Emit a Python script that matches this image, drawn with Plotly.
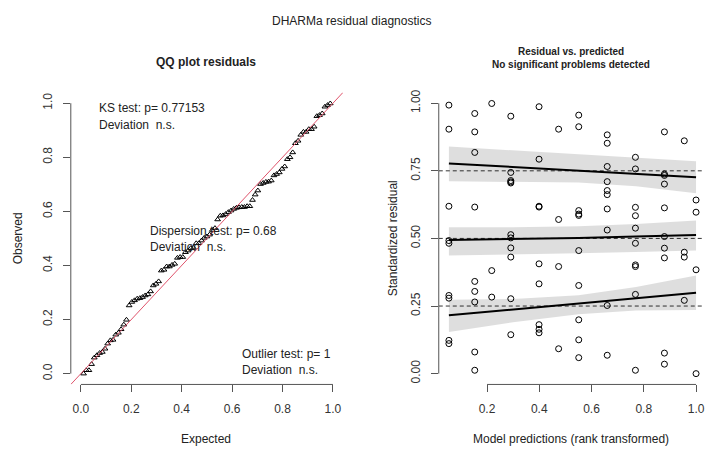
import numpy as np
import plotly.graph_objects as go

W, H = 705, 451
FONT = "Liberation Sans, Arial, sans-serif"

# ---------------- data ----------------
# model predictions (rank transformed) for each residual
pred_rank = (
    [0.054] * 9 + [0.153] * 9 + [0.218] * 3 + [0.291] * 11 + [0.399] * 9 +
    [0.474] * 4 + [0.551] * 10 + [0.660] * 10 + [0.768] * 10 + [0.879] * 10 +
    [0.955] * 4 + [1.0] * 4
)
# scaled (standardized) residuals, in the same order
std_resid = [
    0.993, 0.904, 0.619, 0.492, 0.482, 0.289, 0.279, 0.123, 0.111,
    0.962, 0.894, 0.818, 0.616, 0.341, 0.304, 0.265, 0.080, 0.0125,
    0.999, 0.381, 0.283,
    0.952, 0.744, 0.714, 0.709, 0.705, 0.514, 0.502, 0.465, 0.431, 0.277, 0.144,
    0.987, 0.793, 0.619, 0.616, 0.406, 0.332, 0.181, 0.164, 0.151,
    0.904, 0.570, 0.396, 0.092,
    0.956, 0.913, 0.603, 0.590, 0.585, 0.455, 0.326, 0.199, 0.125, 0.059,
    0.883, 0.852, 0.766, 0.710, 0.677, 0.662, 0.609, 0.531, 0.252, 0.068,
    0.800, 0.757, 0.615, 0.584, 0.538, 0.482, 0.402, 0.396, 0.293, 0.0125,
    0.894, 0.738, 0.733, 0.701, 0.613, 0.507, 0.464, 0.428, 0.076, 0.035,
    0.861, 0.449, 0.431, 0.271,
    0.642, 0.597, 0.384, 0.0,
]

quantile_levels = [0.25, 0.5, 0.75]

# fitted quantile curves and their confidence bands
band_x = [0.054, 0.30, 0.55, 0.77, 1.0]
q25_fit = [0.2155, 0.237, 0.2585, 0.278, 0.299]
q25_lo = [0.154, 0.190, 0.220, 0.233, 0.235]
q25_hi = [0.273, 0.276, 0.290, 0.320, 0.363]
q50_fit = [0.494, 0.497, 0.502, 0.507, 0.513]
q50_lo = [0.437, 0.440, 0.445, 0.450, 0.455]
q50_hi = [0.541, 0.541, 0.545, 0.553, 0.566]
q75_fit = [0.7775, 0.764, 0.750, 0.738, 0.726]
q75_lo = [0.711, 0.710, 0.707, 0.693, 0.667]
q75_hi = [0.840, 0.826, 0.811, 0.798, 0.785]

qq_ticks = [0.0, 0.2, 0.4, 0.6, 0.8, 1.0]
qq_ticklabels = ["0.0", "0.2", "0.4", "0.6", "0.8", "1.0"]
rv_xticks = [0.2, 0.4, 0.6, 0.8, 1.0]
rv_xticklabels = ["0.2", "0.4", "0.6", "0.8", "1.0"]
rv_yticks = [0.0, 0.25, 0.5, 0.75, 1.0]
rv_yticklabels = ["0.00", "0.25", "0.50", "0.75", "1.00"]

# ---------------- layout helpers ----------------
def px(x):
    return x / W

def py(y):
    return 1 - y / H

X1_RANGE = [-0.04, 1.04]
Y_RANGE = [-0.04, 1.04]
X2_RANGE = [0.0152, 1.0266]

def frac(v, rng):
    return (v - rng[0]) / (rng[1] - rng[0])

fig = go.Figure()

# ---------------- QQ plot ----------------
n = len(std_resid)
observed = np.sort(np.array(std_resid))
expected = np.arange(1, n + 1) / (n + 1)

fig.add_trace(go.Scatter(
    x=expected, y=observed, mode="markers", xaxis="x", yaxis="y",
    marker=dict(symbol="triangle-up-open", size=5, color="black",
                line=dict(width=1, color="black")),
    showlegend=False, hoverinfo="skip"))
fig.add_trace(go.Scatter(
    x=X1_RANGE, y=Y_RANGE, mode="lines", xaxis="x", yaxis="y",
    line=dict(color="#DF536B", width=1), showlegend=False, hoverinfo="skip"))

# ---------------- residual vs predicted ----------------
bands = [(q25_lo, q25_hi), (q50_lo, q50_hi), (q75_lo, q75_hi)]
for lo, hi in bands:
    fig.add_trace(go.Scatter(
        x=band_x + band_x[::-1], y=lo + hi[::-1], mode="lines",
        fill="toself", fillcolor="rgba(0,0,0,0.13)", line=dict(width=0),
        xaxis="x2", yaxis="y2", showlegend=False, hoverinfo="skip"))

for q in quantile_levels:
    fig.add_trace(go.Scatter(
        x=X2_RANGE, y=[q, q], mode="lines", xaxis="x2", yaxis="y2",
        line=dict(color="black", width=0.8, dash="4px,3px"),
        showlegend=False, hoverinfo="skip"))

for fit in (q25_fit, q50_fit, q75_fit):
    fig.add_trace(go.Scatter(
        x=band_x, y=fit, mode="lines", xaxis="x2", yaxis="y2",
        line=dict(color="black", width=2), showlegend=False, hoverinfo="skip"))

fig.add_trace(go.Scatter(
    x=pred_rank, y=std_resid, mode="markers", xaxis="x2", yaxis="y2",
    marker=dict(symbol="circle-open", size=6, color="black",
                line=dict(width=1, color="black")),
    showlegend=False, hoverinfo="skip"))

# ---------------- axes ----------------
Y_DOM = [py(384), py(90)]
tickfont = dict(family=FONT, size=12, color="#333")
common = dict(showgrid=False, zeroline=False, showline=False, ticks="outside",
              ticklen=7, tickwidth=1, tickcolor="#555", tickfont=tickfont,
              ticklabeloverflow="allow")

fig.update_layout(
    xaxis=dict(domain=[px(71), px(344)], range=X1_RANGE, tickvals=qq_ticks,
               ticktext=qq_ticklabels, anchor="y", ticklabelstandoff=6, **common),
    yaxis=dict(domain=Y_DOM, range=Y_RANGE, tickvals=qq_ticks,
               ticktext=qq_ticklabels, anchor="x", tickangle=-90,
               ticklabelstandoff=6, **common),
    xaxis2=dict(domain=[px(440), 1.0], range=X2_RANGE, tickvals=rv_xticks,
                ticktext=rv_xticklabels, anchor="y2", ticklabelstandoff=6, **common),
    yaxis2=dict(domain=Y_DOM, range=Y_RANGE, tickvals=rv_yticks,
                ticktext=rv_yticklabels, anchor="x2", tickangle=-90,
                ticklabelstandoff=6, **common),
)

axcol = "#555"
shapes = [
    dict(type="line", xref="x domain", yref="y domain", x0=0, x1=0,
         y0=frac(0, Y_RANGE), y1=frac(1, Y_RANGE), line=dict(color=axcol, width=1)),
    dict(type="line", xref="x domain", yref="y domain", y0=0, y1=0,
         x0=frac(0, X1_RANGE), x1=frac(1, X1_RANGE), line=dict(color=axcol, width=1)),
    dict(type="line", xref="x2 domain", yref="y2 domain", x0=0, x1=0,
         y0=frac(0, Y_RANGE), y1=frac(1, Y_RANGE), line=dict(color=axcol, width=1)),
    dict(type="line", xref="x2 domain", yref="y2 domain", y0=0, y1=0,
         x0=frac(0.2, X2_RANGE), x1=frac(1.0, X2_RANGE), line=dict(color=axcol, width=1)),
]

txt = "#222"
def ann(text, x, y, size=12, bold=False, xanchor="center", angle=0):
    t = f"<b>{text}</b>" if bold else text
    return dict(text=t, x=px(x), y=py(y), xref="paper", yref="paper",
                xanchor=xanchor, yanchor="middle", showarrow=False, textangle=angle,
                font=dict(family=FONT, size=size, color=txt))

nb = "\u00a0"
annotations = [
    ann("DHARMa residual diagnostics", 352, 18, size=12),
    ann("QQ plot residuals", 207, 59, size=12, bold=True),
    ann("Residual vs. predicted", 573, 49, size=10, bold=True),
    ann("No significant problems detected", 573, 62, size=10, bold=True),
    ann("Expected", 207, 439),
    ann("Observed", 18, 237, angle=-90),
    ann("Model predictions (rank transformed)", 573, 439),
    ann("Standardized residual", 395, 237, angle=-90),
    ann("KS test: p= 0.77153", 97, 106, xanchor="left"),
    ann(f"Deviation {nb}n.s.", 97, 123, xanchor="left"),
    ann("Dispersion test: p= 0.68", 148, 230, xanchor="left"),
    ann(f"Deviation {nb}n.s.", 148, 246, xanchor="left"),
    ann("Outlier test: p= 1", 241, 353, xanchor="left"),
    ann(f"Deviation {nb}n.s.", 241, 369, xanchor="left"),
]

fig.update_layout(
    width=W, height=H, margin=dict(l=0, r=0, t=0, b=0),
    paper_bgcolor="white", plot_bgcolor="white",
    shapes=shapes, annotations=annotations, showlegend=False,
    font=dict(family=FONT),
)

fig.write_html("out.html", config={"displayModeBar": False},
               post_script="document.body.style.margin='0';")
